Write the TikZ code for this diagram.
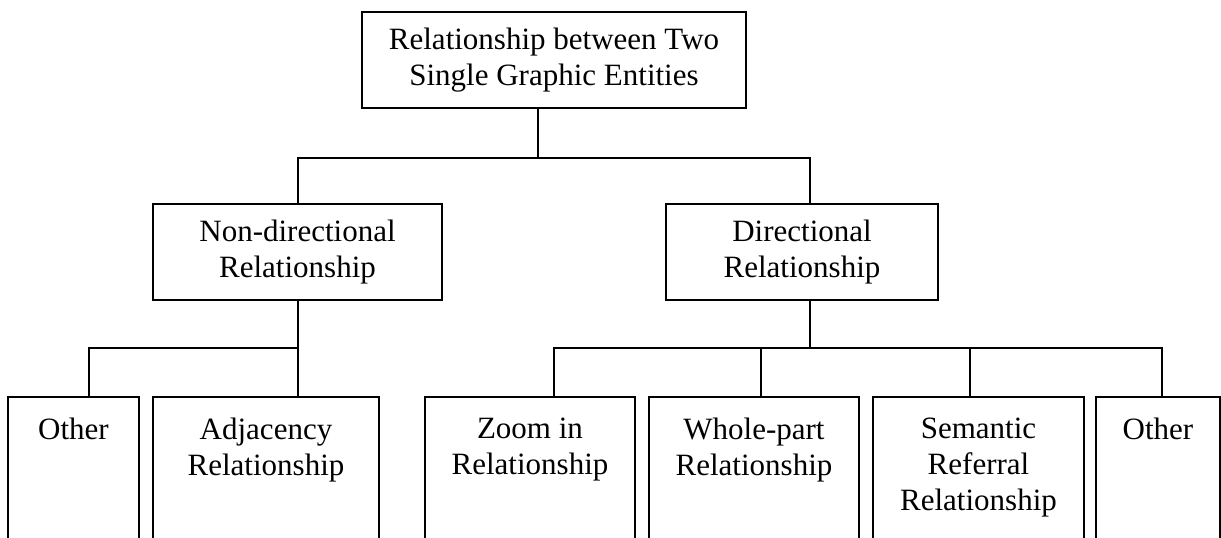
\documentclass[tikz,border=0pt]{standalone}
\usepackage{fontspec}
\setmainfont{Liberation Serif}
\begin{document}
\begin{tikzpicture}[x=0.5pt,y=-0.5pt,line width=1pt,
  box/.style={draw,line width=1pt,inner sep=0pt,align=center,font=\fontsize{15.5}{18}\selectfont},
  obox/.style={inner sep=0pt,minimum height=80pt,anchor=north},
  lbl/.style={inner sep=0pt,align=center,anchor=north,font=\fontsize{15.5}{18}\selectfont},
  side/.style={line width=1pt,line join=miter}]
\clip (0,0) rectangle (1221,537);
\fill[white] (0,0) rectangle (1221,537);
% level 0 and 1
\node[box,minimum width=192pt,minimum height=48pt] (root) at (554,60) {Relationship between Two\\Single Graphic Entities};
\node[box,minimum width=144.5pt,minimum height=48pt] (nd) at (297.5,252) {Non-directional\\Relationship};
\node[box,minimum width=136pt,minimum height=48pt] (dir) at (802,252) {Directional\\Relationship};
% level 2 boxes (open at the bottom)
\node[obox,minimum width=64.5pt] (o1) at (73.5,397) {};
\node[obox,minimum width=112pt] (adj) at (266,397) {};
\node[obox,minimum width=104pt] (zoom) at (530,397) {};
\node[obox,minimum width=104pt] (whole) at (754,397) {};
\node[obox,minimum width=104.5pt] (sem) at (978.5,397) {};
\node[obox,minimum width=61pt] (o2) at (1158,397) {};
\foreach \n in {o1,adj,zoom,whole,sem,o2}{
  \draw[side] (\n.south west) -- (\n.north west) -- (\n.north east) -- (\n.south east);
}
\node[lbl] (o1t) at ([yshift=-10pt]o1.north) {Other};
\node[lbl] (adjt) at ([yshift=-10pt]adj.north) {Adjacency\\Relationship};
\node[lbl] (zoomt) at ([yshift=-10pt]zoom.north) {Zoom in\\Relationship};
\node[lbl] (wholet) at ([yshift=-10pt]whole.north) {Whole-part\\Relationship};
\node[lbl] (semt) at ([yshift=-10pt]sem.north) {Semantic\\Referral\\Relationship};
\node[lbl] (o2t) at ([yshift=-10pt]o2.north) {Other};
% connectors
\coordinate (rj) at (538,158);
\coordinate (b1l) at (298,158);
\coordinate (b1r) at (810,158);
\draw (root.south -| rj) -- (rj);
\draw (nd.north -| b1l) |- (b1r) -- (dir.north -| b1r);
\coordinate (b2l) at (89,348);
\coordinate (b2r) at (298,348);
\draw (nd.south -| b2r) -- (b2r);
\draw (o1.north -| b2l) |- (b2r) -- (adj.north -| b2r);
\coordinate (b3dir) at (810,348);
\coordinate (b3a) at (554,348);
\coordinate (b3b) at (761,348);
\coordinate (b3c) at (970,348);
\coordinate (b3d) at (1162,348);
\draw (dir.south -| b3dir) -- (b3dir);
\draw (zoom.north -| b3a) |- (b3d) -- (o2.north -| b3d);
\draw (whole.north -| b3b) -- (b3b);
\draw (sem.north -| b3c) -- (b3c);
\end{tikzpicture}
\end{document}
